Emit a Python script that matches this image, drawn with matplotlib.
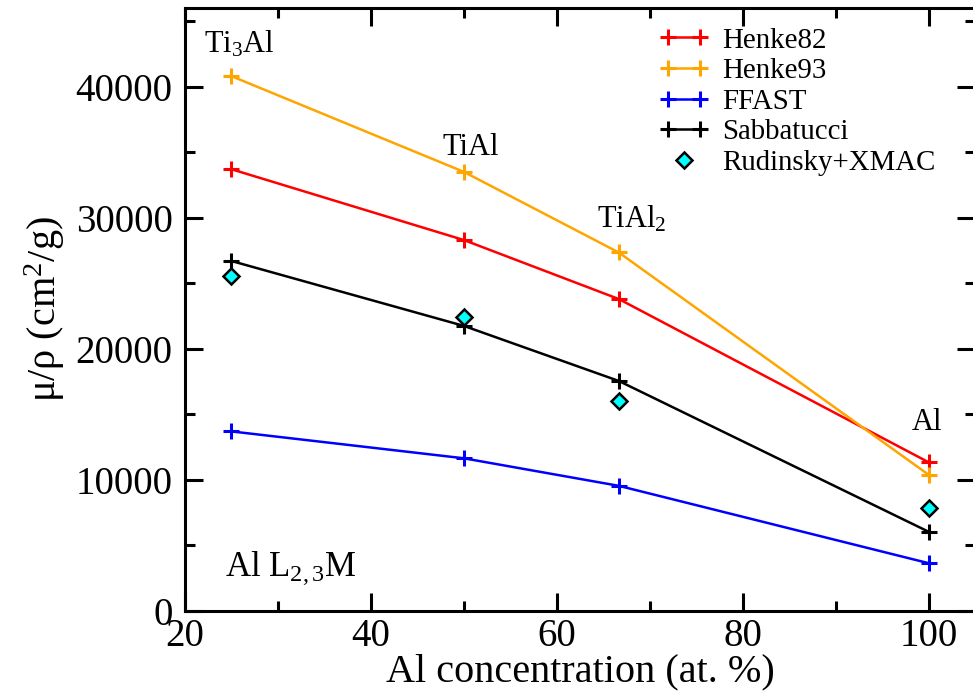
import matplotlib
matplotlib.use("Agg")
import matplotlib.pyplot as plt
from matplotlib.legend_handler import HandlerLine2D
from matplotlib.ticker import MultipleLocator

plt.rcParams['font.family'] = ['Liberation Serif', 'DejaVu Serif']
plt.rcParams['mathtext.fontset'] = 'custom'
plt.rcParams['mathtext.rm'] = 'Liberation Serif'
plt.rcParams['mathtext.it'] = 'Liberation Serif:italic'

# Al concentration (at. %)
conc = [25, 50, 66.67, 100]

henke82 = [33700, 28300, 23800, 11350]
henke93 = [40800, 33500, 27350, 10400]
ffast = [13700, 11650, 9550, 3650]
sabbatucci = [26700, 21750, 17550, 6050]
rudinsky = [25550, 22400, 16000, 7850]

compounds = ["Ti$_3$Al", "TiAl", "TiAl$_2$", "Al"]
label_pos = [(22.0, 42600), (47.7, 34800), (64.3, 29240), (98.2, 13800)]

fig = plt.figure(figsize=(9.73, 6.91), dpi=100)
ax = fig.add_axes([185/973, 1 - 611/691, (975 - 185)/973, (611 - 8)/691])

lw = 1.8
ms = 11
ax.plot(conc, henke82, color='red', marker='+', ms=ms, mew=2.2, lw=lw, label='Henke82')
ax.plot(conc, henke93, color='orange', marker='+', ms=ms, mew=2.2, lw=lw, label='Henke93')
ax.plot(conc, ffast, color='blue', marker='+', ms=ms, mew=2.2, lw=lw, label='FFAST')
ax.plot(conc, sabbatucci, color='black', marker='+', ms=ms, mew=2.2, lw=lw, label='Sabbatucci')
rud, = ax.plot(conc, rudinsky, ls='none', marker='D', ms=8, mfc='cyan', mec='black',
               mew=1.8, label='Rudinsky+XMAC')

for name, (x, y) in zip(compounds, label_pos):
    ax.text(x, y, name, fontsize=22, ha='left', va='baseline')
ax.text(24.3, 2670, "Al L$_{2,3}$M", fontsize=25, ha='left', va='baseline')

ax.set_xlim(20, 105)
ax.set_ylim(0, 46000)
ax.xaxis.set_major_locator(MultipleLocator(20))
ax.xaxis.set_minor_locator(MultipleLocator(10))
ax.yaxis.set_major_locator(MultipleLocator(10000))
ax.yaxis.set_minor_locator(MultipleLocator(5000))
ax.tick_params(which='both', direction='in', top=True, right=True, width=2.2, labelsize=28)
ax.tick_params(which='major', length=13)
ax.tick_params(which='minor', length=7)
ax.tick_params(axis='x', pad=5)
ax.tick_params(axis='y', pad=9)
for s in ax.spines.values():
    s.set_linewidth(2.2)

ax.set_xlabel("Al concentration (at. %)", fontsize=29, labelpad=-1)
ax.set_ylabel("μ/ρ (cm$^2$/g)", fontsize=29, labelpad=6)

ax.legend(loc='upper left', bbox_to_anchor=(0.601, 0.968), frameon=False, fontsize=20.8,
          numpoints=2, handlelength=1.7, handletextpad=0.45, labelspacing=0.15,
          borderpad=0, borderaxespad=0,
          handler_map={rud: HandlerLine2D(numpoints=1)})

fig.savefig("out.png", dpi=100)
